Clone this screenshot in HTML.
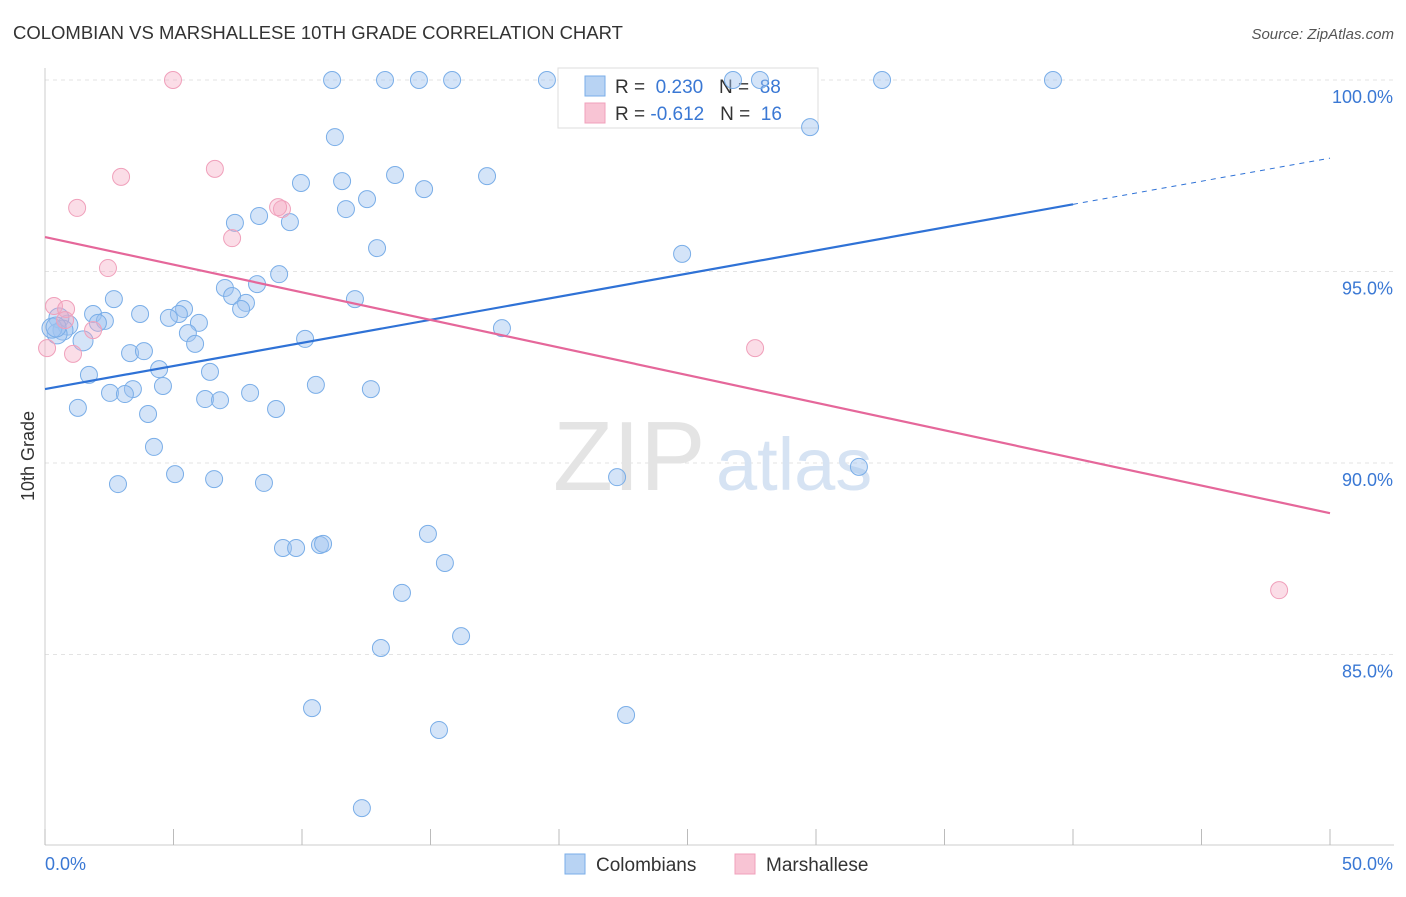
<!DOCTYPE html>
<html><head><meta charset="utf-8"><style>
body{margin:0;background:#fff;font-family:"Liberation Sans",sans-serif;}
svg text{font-family:"Liberation Sans",sans-serif;}
</style></head><body>
<svg width="1406" height="892" xmlns="http://www.w3.org/2000/svg">
<text x="13" y="39" font-size="18.5" fill="#333">COLOMBIAN VS MARSHALLESE 10TH GRADE CORRELATION CHART</text>
<text x="1394" y="39" font-size="15" fill="#555" font-style="italic" text-anchor="end">Source: ZipAtlas.com</text>
<g id="grid"></g>
<g id="axes"></g>
<text x="553" y="490" font-size="98" fill="#e4e4e4" font-family="Liberation Serif">ZIP</text>
<text x="716" y="490" font-size="74" fill="#d6e3f3">atlas</text>
<g>
<rect x="558" y="68" width="260" height="60" fill="#fff" stroke="#ddd"/>
<rect x="585" y="76" width="20" height="20" fill="#b8d3f3" stroke="#7aaee8"/>
<text x="615" y="93" font-size="19" fill="#333">R = <tspan fill="#3a78d4">&#160;0.230</tspan>&#160;&#160;&#160;N = <tspan fill="#3a78d4">&#160;88</tspan></text>
<rect x="585" y="103" width="20" height="20" fill="#f8c4d4" stroke="#f0a0bb"/>
<text x="615" y="120" font-size="19" fill="#333">R = <tspan fill="#3a78d4">-0.612</tspan>&#160;&#160;&#160;N = <tspan fill="#3a78d4">&#160;16</tspan></text>
</g>
<g id="marks"></g>
<text transform="translate(34,456) rotate(-90)" font-size="18" fill="#333" text-anchor="middle">10th Grade</text>
<g>
<rect x="565" y="854" width="20" height="20" fill="#b8d3f3" stroke="#7aaee8"/>
<text x="596" y="871" font-size="19" fill="#333">Colombians</text>
<rect x="735" y="854" width="20" height="20" fill="#f8c4d4" stroke="#f0a0bb"/>
<text x="766" y="871" font-size="19" fill="#333">Marshallese</text>
</g>
</svg>
<script>
const blueX=[11.17,13.23,14.55,15.84,19.53,26.77,27.82,32.57,39.22,11.28,29.77,9.96,11.56,13.62,14.75,17.2,12.53,11.71,7.39,8.33,9.53,12.92,24.79,9.11,8.25,7.0,7.28,7.82,7.63,12.06,2.68,3.7,1.87,5.41,5.21,4.82,5.99,5.56,5.84,2.33,2.06,0.89,0.54,0.7,0.47,0.27,1.48,10.12,17.78,3.31,3.85,4.44,6.42,1.71,4.59,3.42,2.53,3.11,6.23,6.81,7.98,10.54,12.68,8.99,1.28,4.01,4.24,5.06,6.58,2.84,8.52,22.26,31.67,14.9,9.26,9.77,10.7,10.82,15.56,13.89,16.19,13.07,10.39,22.61,15.33,12.33,0.43];
const blueY=[100,100,100,100,100,100,100,100,100,98.51,98.77,97.31,97.36,97.52,97.15,97.49,96.89,96.63,96.27,96.45,96.29,95.61,95.46,94.93,94.67,94.57,94.36,94.18,94.02,94.28,94.28,93.89,93.89,94.02,93.89,93.79,93.66,93.39,93.11,93.71,93.66,93.6,93.79,93.47,93.37,93.52,93.19,93.24,93.52,92.87,92.92,92.45,92.38,92.3,92.01,91.93,91.83,91.8,91.67,91.64,91.83,92.04,91.93,91.41,91.44,91.28,90.42,89.71,89.58,89.45,89.48,89.63,89.9,88.15,87.78,87.78,87.86,87.89,87.39,86.61,85.48,85.17,83.6,83.42,83.03,80.99,93.55];
const pinkX=[4.98,2.96,6.61,1.25,9.22,9.07,7.28,2.45,0.35,0.82,0.78,1.87,1.09,0.08,27.63,48.02];
const pinkY=[100,97.47,97.68,96.66,96.63,96.68,95.87,95.09,94.1,94.02,93.73,93.47,92.85,93.0,93.0,86.68];
const blueTrend=[91.93,97.96];
const pinkTrend=[95.9,88.69];
const yTicks=[100,95,90,85];
const yTickLabels=["100.0%","95.0%","90.0%","85.0%"];
const xTickValues=[0,5,10,15,20,25,30,35,40,45,50];
const NS="http://www.w3.org/2000/svg";
const sx=v=>45+v*25.7;
const sy=v=>80+(100-v)*38.3;
function mk(tag,attrs,parent){const e=document.createElementNS(NS,tag);for(const k in attrs)e.setAttribute(k,attrs[k]);parent.appendChild(e);return e;}
const grid=document.getElementById('grid'),axes=document.getElementById('axes'),marks=document.getElementById('marks');
yTicks.forEach((t,i)=>{
 const l=mk('line',{x1:45,x2:1394,y1:sy(t),y2:sy(t),stroke:'#e3e3e3','stroke-dasharray':'4,4'},grid);
 
 
 const tx=mk('text',{x:1393,y:sy(t)+23,'font-size':18,fill:'#3a78d4','text-anchor':'end'},axes);
 tx.textContent=yTickLabels[i];
 
 
});
let a=mk('line',{x1:45,x2:45,y1:68,y2:845,stroke:'#ccc'},axes);

a=mk('line',{x1:45,x2:1394,y1:845,y2:845,stroke:'#ccc'},axes);

xTickValues.forEach(v=>{
 const t=mk('line',{x1:sx(v),x2:sx(v),y1:829,y2:845,stroke:'#bbb'},axes);
 
 
});
let lx=mk('text',{x:45,y:870,'font-size':18,fill:'#3a78d4'},axes);lx.textContent=xTickValues[0].toFixed(1)+'%';

lx=mk('text',{x:1393,y:870,'font-size':18,fill:'#3a78d4','text-anchor':'end'},axes);lx.textContent=xTickValues[xTickValues.length-1].toFixed(1)+'%';

blueX.forEach((x,i)=>{
 const c=mk('circle',{cx:sx(x),cy:sy(blueY[i]),r:(x<1.5&&blueY[i]<94&&blueY[i]>93)?10:8.5,fill:'rgba(160,196,240,0.45)',stroke:'#7aaee8','stroke-width':1},marks);
 
 
});
pinkX.forEach((x,i)=>{
 const c=mk('circle',{cx:sx(x),cy:sy(pinkY[i]),r:8.5,fill:'rgba(245,170,195,0.4)',stroke:'#f0a0bb','stroke-width':1},marks);
 
 
});
const by=x=>blueTrend[0]+(blueTrend[1]-blueTrend[0])*x/50;
let tl=mk('line',{x1:sx(0),y1:sy(by(0)),x2:sx(40),y2:sy(by(40)),stroke:'#2f72d6','stroke-width':2.2},marks);

tl=mk('line',{x1:sx(40),y1:sy(by(40)),x2:sx(50),y2:sy(by(50)),stroke:'#2f72d6','stroke-width':1,'stroke-dasharray':'5,5'},marks);

tl=mk('line',{x1:sx(0),y1:sy(pinkTrend[0]),x2:sx(50),y2:sy(pinkTrend[1]),stroke:'#e5679a','stroke-width':2.2},marks);

</script>
</body></html>
